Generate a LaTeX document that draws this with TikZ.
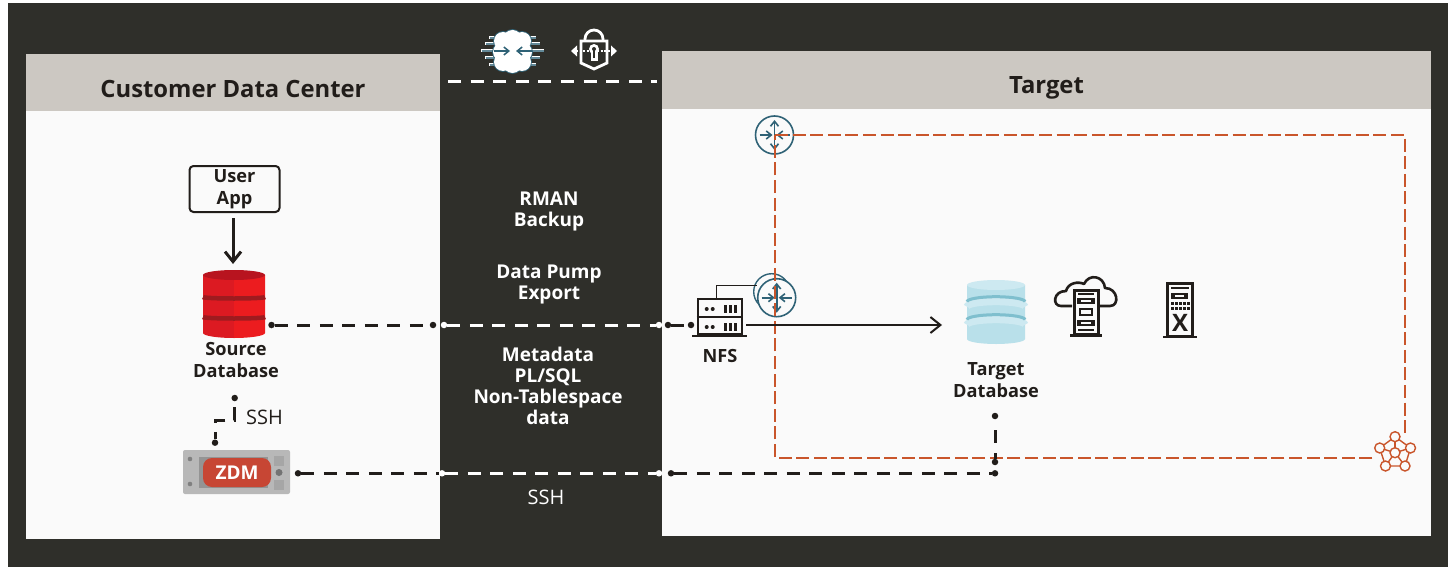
\documentclass[tikz,border=0pt]{standalone}
\usepackage{fontspec}
\setmainfont{Open Sans}
\usetikzlibrary{arrows.meta}
\definecolor{panelDark}{HTML}{2F2F2A}
\definecolor{headGrey}{HTML}{CCC8C2}
\definecolor{bodyWhite}{HTML}{FAFAFA}
\definecolor{inkDark}{HTML}{211D1A}
\definecolor{rust}{HTML}{C9552B}
\definecolor{routerTeal}{HTML}{2F6276}
\definecolor{srcLeft}{HTML}{DC1A22}
\definecolor{srcRight}{HTML}{EC1C1F}
\definecolor{srcTop}{HTML}{B8141F}
\definecolor{srcBand}{HTML}{9E1B1F}
\definecolor{tgtBody}{HTML}{B9E0EA}
\definecolor{tgtTop}{HTML}{CDE9F1}
\definecolor{tgtBand}{HTML}{7FBFCE}
\definecolor{zdmRed}{HTML}{C74634}
\tikzset{
  lbl/.style={font=\bfseries\fontsize{18.2}{22}\selectfont,text=inkDark,align=center,inner sep=0pt},
  lblw/.style={font=\bfseries\fontsize{19}{21}\selectfont,text=white,align=center,inner sep=0pt},
  head/.style={font=\bfseries\fontsize{23.8}{28}\selectfont,text=inkDark,inner sep=0pt},
  dot/.style={circle,fill=inkDark,inner sep=0pt,minimum size=6.5pt},
  dotw/.style={circle,fill=white,inner sep=0pt,minimum size=6.5pt},
  dashk/.style={draw=inkDark,line width=3pt,dash pattern=on 13pt off 9.5pt},
  dashw/.style={draw=white,line width=3pt,dash pattern=on 13pt off 9.5pt},
  vcnline/.style={draw=rust,line width=1.3pt,dash pattern=on 13pt off 4.6pt},
  barb/.style={-{Straight Barb[length=5pt,width=8pt]}},
  bigbarb/.style={-{Straight Barb[length=10pt,width=16pt]}},
}
% x, top y, half width, side bottom y, left colour, right colour, top colour
\newcommand{\dbcyl}[7]{
  \fill[#5] (#1-#3,#2) -- (#1-#3,#4) arc[start angle=180,end angle=90,x radius=#3,y radius=5] -- (#1,#2) -- cycle;
  \fill[#6] (#1+#3,#2) -- (#1+#3,#4) arc[start angle=0,end angle=90,x radius=#3,y radius=5] -- (#1,#2) -- cycle;
  \fill[#7] (#1,#2) ellipse[x radius=#3,y radius=5];
}
\newcommand{\router}[2]{
  \draw[routerTeal,line width=1.6pt,fill=bodyWhite] (#1,#2) circle[radius=19];
  \draw[routerTeal,line width=1.6pt,barb] (#1-15,#2) -- (#1-2,#2);
  \draw[routerTeal,line width=1.6pt,barb] (#1+15,#2) -- (#1+2,#2);
  \draw[routerTeal,line width=1.6pt,barb] (#1,#2) -- (#1,#2-15);
  \draw[routerTeal,line width=1.6pt,barb] (#1,#2) -- (#1,#2+15);
}
\begin{document}
\begin{tikzpicture}[x=1pt,y=-1pt]
  \useasboundingbox (0,0) rectangle (1448,567);
  \fill[white] (0,0) rectangle (1448,567);
  \fill[panelDark] (8,3) rectangle (1448,567);

  % left panel
  \fill[bodyWhite] (26,54) rectangle (440,539);
  \fill[headGrey] (26,54) rectangle (440,111);
  \node[head] (custHead) at (233,88.5) {Customer Data Center};
  % right panel
  \fill[bodyWhite] (662,51) rectangle (1431,536);
  \fill[headGrey] (662,51) rectangle (1431,109);
  \node[head] (targetHead) at (1046.5,88) {Target};

  % cloud icon
  \foreach \yy/\xx in {38/23,44/27,51/31,58/27,65/23}{
    \draw[white,line width=3pt] (512.5-\xx-0.5,\yy) -- (512.5+\xx+0.5,\yy);
    \draw[routerTeal!75,line width=1.4pt] (512.5-\xx,\yy) -- (512.5+\xx,\yy);
  }
  \foreach \xx/\yy/\rr in {512.5/39.5/9.5,503/41/9,522/41/9,502.5/52/9.5,522.5/52/9.5,503/62/9,522/62/9,512.5/63.5/9.5}{
    \fill[routerTeal] (\xx,\yy) circle[radius=\rr+0.9];
  }
  \foreach \xx/\yy/\rr in {512.5/39.5/9.5,503/41/9,522/41/9,502.5/52/9.5,522.5/52/9.5,503/62/9,522/62/9,512.5/63.5/9.5,512.5/51/12}{
    \fill[white] (\xx,\yy) circle[radius=\rr];
  }
  \draw[routerTeal,line width=1.5pt,barb] (494,51) -- (510,51);
  \draw[routerTeal,line width=1.5pt,barb] (532,51) -- (516,51);

  % lock icon
  \draw[white,line width=2.8pt] (581,41) -- (607,41) -- (607,63) -- (594,69) -- (581,63) -- cycle;
  \draw[white,line width=2.8pt] (585,41) -- (585,39) arc[start angle=180,end angle=360,radius=9] -- (603,41);
  \draw[white,line width=2.4pt,dash pattern=on 2pt off 1.5pt] (576,51) -- (612,51);
  \fill[white] (571,51) -- (577,45.5) -- (577,56.5) -- cycle;
  \fill[white] (617,51) -- (611,45.5) -- (611,56.5) -- cycle;
  \fill[white] (594,49) circle[radius=5];
  \fill[white] (590.5,50) rectangle (597.5,61);
  \fill[panelDark] (594,49) circle[radius=2];
  \fill[panelDark] (593,50) rectangle (595,58.5);

  % top white dashes
  \coordinate (vpnL) at (448,81.7);
  \coordinate (vpnR) at (657,81.7);
  \draw[white,line width=3.4pt,dash pattern=on 13pt off 9.6pt] (vpnL) -- (vpnR);

  % routers
  \router{774.5}{135}
  \draw[routerTeal,line width=1.4pt] (771.7,291.7) circle[radius=18];
  \router{776.7}{297.7}

  % vcn frame
  \coordinate (vcnTL) at (775,135);
  \coordinate (vcnTR) at (1405,135);
  \coordinate (vcnBR) at (1405,458);
  \coordinate (vcnBL) at (775,458);
  \draw[vcnline] (vcnTL) -- (vcnTR) -- (vcnBR) -- (vcnBL) -- cycle;

  % mesh icon
  \fill[bodyWhite] (1395,452.7) circle[radius=19];
  \foreach \nn/\xx/\yy in {p1/1395/436.7,p2/1410.5/448,p3/1405/466,p4/1385.5/466,p5/1379.7/448,pc/1395/452.7}{
    \coordinate (\nn) at (\xx,\yy);
  }
  \draw[rust,line width=1.4pt] (p1) -- (p2) -- (p3) -- (p4) -- (p5) -- cycle;
  \foreach \nn in {p1,p2,p3,p4,p5}{ \draw[rust,line width=1.4pt] (pc) -- (\nn); }
  \foreach \nn in {p1,p2,p3,p4,p5,pc}{ \draw[rust,line width=1.4pt,fill=bodyWhite] (\nn) circle[radius=5]; }

  % user app
  \node[draw=inkDark,line width=2pt,rounded corners=4pt,minimum width=90pt,minimum height=46pt,lbl] (userApp) at (234.5,189) {User\\App};

  % source db
  \dbcyl{234}{275}{31}{333}{srcLeft}{srcRight}{srcTop}
  \foreach \yy in {297,317}{
    \draw[srcBand,line width=4.5pt] (203,\yy) arc[start angle=180,end angle=0,x radius=31,y radius=1.5];
  }
  \node[inner sep=0pt,minimum width=62pt,minimum height=68pt] (srcDb) at (234,304) {};
  \node[lbl] (srcLbl) at (236,360) {Source\\Database};
  \coordinate (appOut) at (233,218);
  \coordinate (srcIn) at (233,264);
  \draw[inkDark,line width=3pt,bigbarb] (appOut) -- (srcIn);

  % zdm
  \node[fill=black!28,rounded corners=2pt,minimum width=107pt,minimum height=44pt,inner sep=0pt] (zdmBox) at (236.5,472) {};
  \fill[black!42] (199,457) rectangle (268,488);
  \foreach \yy in {459,484}{ \fill[black!50] (190,\yy) circle[radius=2.3]; }
  \foreach \yy in {456,480}{ \fill[black!35] (274,\yy) rectangle (284,\yy+10); }
  \fill[black!55] (279,472.5) circle[radius=3.5];
  \node[fill=zdmRed,rounded corners=9pt,minimum width=68pt,minimum height=29pt,inner sep=0pt,text=white,font=\bfseries\fontsize{19}{20}\selectfont] (zdm) at (237,472.5) {ZDM};

  % nfs
  \node[draw=inkDark,line width=2pt,minimum width=44pt,minimum height=35pt,inner sep=0pt] (nfs) at (719.7,316.5) {};
  \draw[inkDark,line width=2pt] (nfs.west) -- (nfs.east);
  \draw[inkDark,line width=2pt] (692,336) -- (747,336);
  \foreach \yy in {309,327}{
    \foreach \xx in {706.7,712.7}{ \fill[inkDark] (\xx,\yy) circle[radius=2]; }
    \foreach \xx in {725,730,735}{ \fill[inkDark] (\xx-1.5,\yy-4) rectangle (\xx+1.5,\yy+4); }
  }
  \node[lbl] (nfsLbl) at (720,356) {NFS};
  \draw[inkDark,line width=1pt] (716,299) -- (716,285) -- (757,285);

  % target db
  \dbcyl{996}{285}{29}{339}{tgtBody}{tgtBody}{tgtTop}
  \foreach \yy in {301.7,319.7}{
    \draw[tgtTop,line width=7pt] (967,\yy+5) arc[start angle=180,end angle=360,x radius=29,y radius=5];
    \draw[tgtBand,line width=3pt] (967,\yy) arc[start angle=180,end angle=360,x radius=29,y radius=5];
  }
  \node[inner sep=0pt,minimum width=58pt,minimum height=64pt] (tgtDb) at (996,312) {};
  \node[lbl] (tgtLbl) at (996,380.5) {Target\\Database};

  % cloud server icon
  \draw[inkDark,line width=2.6pt,line join=round] (1072,306) -- (1061,306)
    .. controls (1052,306) and (1053,291) .. (1066,291)
    .. controls (1068,283) and (1078,281) .. (1084,284)
    .. controls (1089,273) and (1104,276) .. (1105,288)
    .. controls (1118,288) and (1120,306) .. (1110,306) -- (1100,306);
  \draw[inkDark,line width=3pt,fill=bodyWhite] (1074,290) rectangle (1098,334);
  \draw[inkDark,line width=2.4pt] (1070,335.5) -- (1102,335.5);
  \draw[inkDark,line width=1.6pt] (1078,294) -- (1094,294) (1078,330) -- (1094,330);
  \draw[inkDark,line width=1.8pt] (1080,309) rectangle (1092,315);
  \foreach \yy in {301,323}{
    \fill[inkDark] (1077,\yy-3) rectangle (1095,\yy+3);
    \fill[bodyWhite] (1081,\yy-1) rectangle (1091,\yy+1);
  }

  % x server icon
  \draw[inkDark,line width=3pt] (1167,283) rectangle (1192.5,336);
  \draw[inkDark,line width=2.4pt] (1163,337) -- (1197,337);
  \draw[inkDark,line width=2pt] (1171,288) -- (1189,288);
  \fill[inkDark] (1171,292.5) rectangle (1188,298.5);
  \fill[bodyWhite] (1175,294.5) rectangle (1184,296.5);
  \foreach \xx in {1172,1176,1180,1184,1188}{
    \foreach \yy in {303,308}{ \fill[inkDark] (\xx-1.5,\yy-1.5) rectangle (\xx+1.5,\yy+1.5); }
  }
  \node[inner sep=0pt,text=inkDark,font=\bfseries\fontsize{24}{24}\selectfont] (xLbl) at (1180,323) {X};

  % middle text
  \node[lblw] (rman) at (549,211) {RMAN\\Backup};
  \node[lblw] (dpump) at (549,284) {Data Pump\\Export};
  \node[lblw] (meta) at (548,385.5) {Metadata\\PL/SQL\\Non-Tablespace\\data};
  \node[font=\fontsize{20}{22}\selectfont,text=white,inner sep=0pt] (sshMid) at (546,497) {SSH};
  \node[font=\fontsize{20}{22}\selectfont,text=inkDark,inner sep=0pt] (sshLeft) at (264.5,417) {SSH};

  % source to nfs
  \node[dot] (a1) at (271.5,325) {};
  \node[dot] (a2) at (433,325) {};
  \node[dotw] (a3) at (444,325) {};
  \node[dotw] (a4) at (659,325) {};
  \node[dot] (a5) at (668,325) {};
  \node[dot] (a6) at (691,325) {};
  \draw[dashk] (a1) -- (a2);
  \draw[dashw] (a3) -- (a4);
  \draw[draw=inkDark,line width=3pt,dash pattern=on 13pt off 10pt] (a5) -- (a6);

  % zdm to target
  \node[dot] (b1) at (298,473.3) {};
  \node[dotw] (b2) at (442,473.3) {};
  \node[dotw] (b3) at (659,473.3) {};
  \node[dot] (b4) at (671,473.3) {};
  \node[dot] (b5) at (995,473.3) {};
  \node[dot] (b6) at (995,416) {};
  \node[dot] (b7) at (995,462) {};
  \draw[dashk] (b1) -- (b2);
  \draw[dashw] (b2) -- (b3);
  \draw[dashk] (b4) -- (b5);
  \draw[draw=inkDark,line width=3pt,dash pattern=on 0pt off 11pt on 13pt off 10pt on 13pt off 99pt] (b6) -- (b7);

  % zdm to source
  \node[dot] (c1) at (234.7,398) {};
  \node[dot] (c2) at (215,442.7) {};
  \coordinate (c3) at (234.7,420);
  \coordinate (c4) at (215,420);
  \draw[draw=inkDark,line width=3pt,dash pattern=on 13pt off 9pt,dash phase=16pt] (c1) -- (c3) -- (c4) -- (c2);

  % nfs to target
  \coordinate (nfsOut) at (746,325);
  \coordinate (tgtIn) at (942,325);
  \draw[inkDark,line width=2pt,bigbarb] (nfsOut) -- (tgtIn);
\end{tikzpicture}
\end{document}
